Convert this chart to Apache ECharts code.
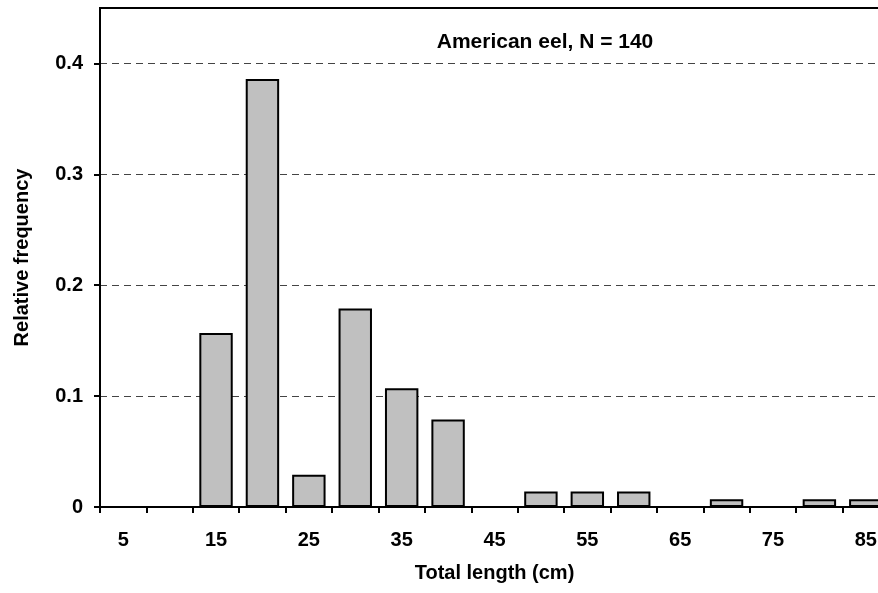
<!DOCTYPE html>
<html>
<head>
<meta charset="utf-8">
<script src="https://cdn.jsdelivr.net/npm/echarts@6/dist/echarts.min.js"></script>
<style>
  html, body { margin: 0; padding: 0; background: #fff; }
  #chart { width: 878px; height: 593px; }
</style>
</head>
<body>
<div id="chart"></div>
<script>
// Length classes (cm) and relative frequency of American eel, N = 140
const lengthClasses = ['5', '10', '15', '20', '25', '30', '35', '40', '45', '50', '55', '60', '65', '70', '75', '80', '85'];
const relFrequency = [0, 0, 0.157, 0.386, 0.029, 0.179, 0.107, 0.079, 0, 0.014, 0.014, 0.014, 0, 0.007, 0, 0.007, 0.007];
const yTickValues = [0, 0.1, 0.2, 0.3, 0.4];
const titleText = 'American eel, N = 140';

const font = 'Liberation Sans, Arial, sans-serif';
const chart = echarts.init(document.getElementById('chart'), null, { renderer: 'canvas' });

chart.setOption({
  animation: false,
  backgroundColor: '#ffffff',
  grid: {
    left: 100, top: 8, right: -11, bottom: 86,
    outerBoundsMode: 'none',
    containLabel: false,
    show: true, borderColor: '#000', borderWidth: 2, backgroundColor: 'transparent'
  },
  graphic: [{
    type: 'text', x: 545, y: 42,
    style: { text: titleText, font: 'bold 21px ' + font, fill: '#000', align: 'center', verticalAlign: 'middle' }
  }],
  xAxis: {
    type: 'category',
    data: lengthClasses,
    boundaryGap: true,
    name: 'Total length (cm)',
    nameLocation: 'middle',
    nameGap: 56,
    nameTextStyle: { fontFamily: font, fontWeight: 'bold', fontSize: 20, color: '#000' },
    axisLine: { lineStyle: { color: '#000', width: 2 } },
    axisTick: { show: true, interval: 0, length: 6, lineStyle: { color: '#000', width: 2 } },
    axisLabel: { interval: 1, margin: 23, fontFamily: font, fontWeight: 'bold', fontSize: 20, color: '#000' },
    splitLine: { show: false }
  },
  yAxis: {
    type: 'value',
    min: 0, max: 0.45,
    name: 'Relative frequency',
    nameLocation: 'middle',
    nameGap: 68,
    nameTextStyle: { fontFamily: font, fontWeight: 'bold', fontSize: 20, color: '#000' },
    axisLine: { show: true, lineStyle: { color: '#000', width: 2 } },
    axisTick: { show: true, length: 6, customValues: yTickValues, lineStyle: { color: '#000', width: 2 } },
    axisLabel: {
      margin: 17, customValues: yTickValues,
      fontFamily: font, fontWeight: 'bold', fontSize: 20, color: '#000',
      formatter: v => (v === 0 ? '0' : v.toFixed(1))
    },
    splitLine: { show: true, lineStyle: { color: '#444', width: 1, type: [7, 5] } }
  },
  series: [{
    type: 'bar',
    data: relFrequency,
    barCategoryGap: '28%',
    itemStyle: { color: '#c0c0c0', borderColor: '#000', borderWidth: 2 }
  }]
});
</script>
</body>
</html>
